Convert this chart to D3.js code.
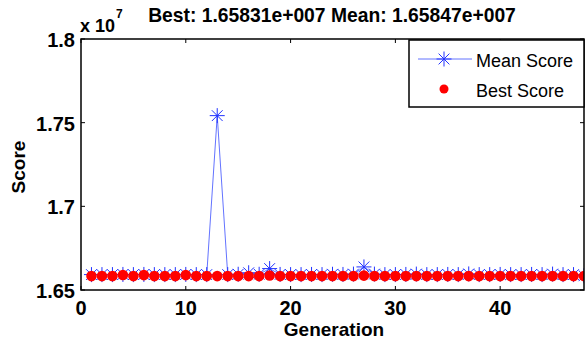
<!DOCTYPE html>
<html>
<head>
<meta charset="utf-8">
<script src="https://cdn.jsdelivr.net/npm/d3@7"></script>
<style>
  body { margin: 0; background: #fff; }
  svg { display: block; font-family: "Liberation Sans", Arial, sans-serif; }
</style>
</head>
<body>
<svg id="chart" width="587" height="347"></svg>
<script>
// generations and scores (x 10^7)
var generations = d3.range(1, 49);
var meanScores = [
  1.6592, 1.6592, 1.6592, 1.6593, 1.6592, 1.6593, 1.6592, 1.6592, 1.6592, 1.6593,
  1.6592, 1.6592, 1.7542, 1.6592, 1.6594, 1.6603, 1.6594, 1.6628, 1.6593, 1.6592,
  1.6592, 1.6593, 1.6592, 1.6594, 1.6593, 1.6595, 1.6638, 1.6595, 1.6592, 1.6592,
  1.6593, 1.6595, 1.6592, 1.6592, 1.6593, 1.6592, 1.6596, 1.6592, 1.6592, 1.6593,
  1.6592, 1.6592, 1.6593, 1.6592, 1.6595, 1.6592, 1.6592, 1.6585
];
var bestScores = [
  1.6583, 1.6583, 1.6583, 1.6590, 1.6583, 1.6589, 1.6583, 1.6583, 1.6583, 1.6589,
  1.6583, 1.6583, 1.6583, 1.6583, 1.6583, 1.6583, 1.6583, 1.6587, 1.6583, 1.6583,
  1.6583, 1.6583, 1.6583, 1.6583, 1.6583, 1.6583, 1.6586, 1.6583, 1.6583, 1.6583,
  1.6583, 1.6583, 1.6583, 1.6583, 1.6583, 1.6583, 1.6583, 1.6583, 1.6583, 1.6583,
  1.6583, 1.6583, 1.6583, 1.6583, 1.6583, 1.6583, 1.6583, 1.6583
];
var xTicks = [0, 10, 20, 30, 40];
var yTicks = [1.65, 1.7, 1.75, 1.8];
var yTickLabels = ['1.65', '1.7', '1.75', '1.8'];
var legendLabels = ['Mean Score', 'Best Score'];
var titleText = 'Best: 1.65831e+007 Mean: 1.65847e+007';

var svg = d3.select('#chart'),
    plotLeft = 81, plotRight = 584, plotTop = 39, plotBottom = 290;

var x = d3.scaleLinear().domain([0, 48]).range([plotLeft, plotRight]);
var y = d3.scaleLinear().domain([1.65, 1.8]).range([plotBottom, plotTop]);

var plot = svg.append('g');

// clip so markers at the edge get cut like matlab does
svg.append('clipPath').attr('id', 'clip')
    .append('rect')
    .attr('x', plotLeft).attr('y', plotTop)
    .attr('width', plotRight - plotLeft).attr('height', plotBottom - plotTop);

var data = generations.map(function (g, i) {
    return {g: g, mean: meanScores[i], best: bestScores[i]};
});

var series = plot.append('g').attr('clip-path', 'url(#clip)');

series.append('path')
    .datum(data)
    .attr('fill', 'none')
    .attr('stroke', '#6373ff')
    .attr('stroke-width', 1)
    .attr('d', d3.line()
        .x(function (d) { return x(d.g); })
        .y(function (d) { return y(d.mean); }));

// asterisk marker (+ and x on top of each other)
function star(sel, r) {
    sel.each(function () {
        var s = d3.select(this), k = r * .72;
        [[-r, 0, r, 0], [0, -r, 0, r], [-k, -k, k, k], [-k, k, k, -k]].forEach(function (l) {
            s.append('line')
                .attr('x1', l[0]).attr('y1', l[1]).attr('x2', l[2]).attr('y2', l[3])
                .attr('stroke', '#2233ff').attr('stroke-width', 1);
        });
    });
}

series.selectAll('.mean').data(data).enter()
    .append('g')
    .attr('class', 'mean')
    .attr('transform', function (d) { return 'translate(' + x(d.g) + ',' + y(d.mean) + ')'; })
    .call(star, 7.5);

series.selectAll('.best').data(data).enter()
    .append('circle')
    .attr('class', 'best')
    .attr('cx', function (d) { return x(d.g); })
    .attr('cy', function (d) { return y(d.best); })
    .attr('r', 5.3)
    .attr('fill', '#ff0000');

// box + ticks
plot.append('rect')
    .attr('x', plotLeft).attr('y', plotTop)
    .attr('width', plotRight - plotLeft).attr('height', plotBottom - plotTop)
    .attr('fill', 'none').attr('stroke', '#000').attr('stroke-width', 1.5);

var tickLen = 4;
xTicks.forEach(function (t) {
    plot.append('line').attr('x1', x(t)).attr('x2', x(t))
        .attr('y1', plotBottom).attr('y2', plotBottom - tickLen).attr('stroke', '#000');
    plot.append('line').attr('x1', x(t)).attr('x2', x(t))
        .attr('y1', plotTop).attr('y2', plotTop + tickLen).attr('stroke', '#000');
    plot.append('text').attr('x', x(t)).attr('y', 315)
        .attr('text-anchor', 'middle').attr('font-size', 20).attr('font-weight', 'bold')
        .text(t);
});

yTicks.forEach(function (t, i) {
    plot.append('line').attr('x1', plotLeft).attr('x2', plotLeft + tickLen)
        .attr('y1', y(t)).attr('y2', y(t)).attr('stroke', '#000');
    plot.append('line').attr('x1', plotRight).attr('x2', plotRight - tickLen)
        .attr('y1', y(t)).attr('y2', y(t)).attr('stroke', '#000');
    plot.append('text').attr('x', 75).attr('y', y(t) + 8)
        .attr('text-anchor', 'end').attr('font-size', 20).attr('font-weight', 'bold')
        .text(yTickLabels[i]);
});

// exponent label
var exp = svg.append('text').attr('x', 80).attr('y', 32)
    .attr('font-size', 18).attr('font-weight', 'bold');
exp.append('tspan').text('x 10');
exp.append('tspan').attr('dy', -14).attr('dx', 1).attr('font-size', 12).text('7');

svg.append('text').attr('x', 332).attr('y', 22)
    .attr('text-anchor', 'middle').attr('font-size', 19.3).attr('font-weight', 'bold')
    .text(titleText);

svg.append('text').attr('x', 334).attr('y', 336)
    .attr('text-anchor', 'middle').attr('font-size', 19).attr('font-weight', 'bold')
    .text('Generation');

svg.append('text').attr('transform', 'translate(25,167) rotate(-90)')
    .attr('text-anchor', 'middle').attr('font-size', 19).attr('font-weight', 'bold')
    .text('Score');

// legend
var legend = svg.append('g');
legend.append('rect').attr('x', 409).attr('y', 40).attr('width', 175).attr('height', 67)
    .attr('fill', '#fff').attr('stroke', '#000').attr('stroke-width', 1.5);
legend.append('line').attr('x1', 418).attr('x2', 472).attr('y1', 59).attr('y2', 59)
    .attr('stroke', '#6373ff');
legend.append('g').attr('transform', 'translate(444,59)').call(star, 7.5);
legend.append('circle').attr('cx', 444).attr('cy', 89).attr('r', 4.5).attr('fill', '#ff0000');
legend.selectAll('.lt').data(legendLabels).enter()
    .append('text')
    .attr('class', 'lt')
    .attr('x', 476)
    .attr('y', function (d, i) { return 67 + i * 30; })
    .attr('font-size', 18)
    .text(function (d) { return d; });
</script>
</body>
</html>
